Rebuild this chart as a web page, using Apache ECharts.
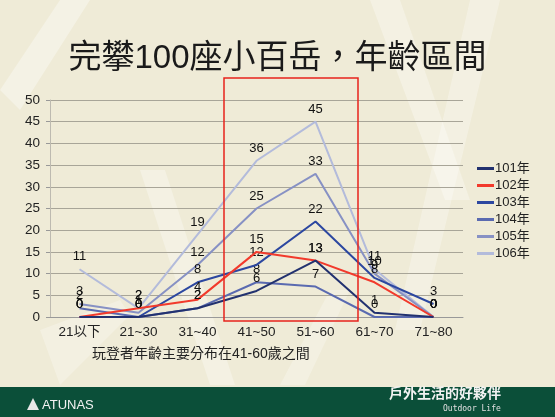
<!DOCTYPE html>
<html>
<head>
<meta charset="utf-8">
<script src="https://cdn.jsdelivr.net/npm/echarts@6/dist/echarts.min.js"></script>
<style>
  html, body { margin: 0; padding: 0; background: #efebd7; }
  #chart { width: 555px; height: 417px; }
</style>
</head>
<body>
<div id="chart"></div>
<script>
// 年齡區間
const categories = ['21以下', '21~30', '31~40', '41~50', '51~60', '61~70', '71~80']
const yTicks = [0, 5, 10, 15, 20, 25, 30, 35, 40, 45, 50]

// 各年度人數
const y101 = [0, 0, 2, 6, 13, 1, 0]
const y102 = [0, 2, 4, 15, 13, 8, 0]
const y103 = [0, 0, 8, 12, 22, 9, 3]
const y104 = [2, 0, 2, 8, 7, 0, 0]
const y105 = [3, 1, 12, 25, 33, 10, 0]
const y106 = [11, 2, 19, 36, 45, 11, 0]

const seriesNames = ['101年', '102年', '103年', '104年', '105年', '106年']
const seriesData = [y101, y102, y103, y104, y105, y106]
const seriesColors = ['#22316f', '#f23a2c', '#2c47a0', '#5a6ab0', '#8791c4', '#b3bbdb']

const font = "'Liberation Sans', 'Noto Sans CJK TC', sans-serif"
const chart = echarts.init(document.getElementById('chart'))

const option = {
  backgroundColor: '#efebd7',
  textStyle: { fontFamily: font },
  title: {
    text: '完攀100座小百岳，年齡區間',
    left: 'center',
    top: 37,
    textStyle: { fontSize: 33, fontWeight: 'normal', color: '#1a1a1a', fontFamily: font }
  },
  legend: {
    orient: 'vertical',
    left: 472,
    top: 157,
    itemWidth: 17,
    itemHeight: 3,
    itemGap: 4,
    icon: 'rect',
    textStyle: { fontSize: 13, color: '#222', padding: [0, 0, 0, -4] },
    data: seriesNames
  },
  grid: { left: 50, top: 100, width: 413, height: 217 },
  xAxis: {
    type: 'category',
    data: categories,
    boundaryGap: true,
    axisLine: { lineStyle: { color: '#999' } },
    axisTick: { lineStyle: { color: '#999' } },
    axisLabel: { fontSize: 13.5, color: '#222', margin: 9 }
  },
  yAxis: {
    type: 'value',
    min: yTicks[0],
    max: yTicks[yTicks.length - 1],
    interval: 5,
    axisLine: { show: true, lineStyle: { color: '#bdbab0' } },
    axisTick: { show: true, length: 4, lineStyle: { color: '#999' } },
    axisLabel: { fontSize: 13.5, color: '#222', margin: 10 },
    splitLine: { lineStyle: { color: '#a8a598', width: 1 } }
  },
  series: seriesNames.map((name, i) => ({
    name: name,
    type: 'line',
    data: seriesData[i],
    symbol: 'circle',
    symbolSize: 0.01,
    showSymbol: true,
    z: 10 - i,
    lineStyle: { color: seriesColors[i], width: 2 },
    itemStyle: { color: seriesColors[i] },
    labelLayout: { hideOverlap: false },
    label: { show: true, position: 'top', fontSize: 13, color: '#111', distance: 6 }
  })),
  graphic: [
    {
      type: 'group',
      silent: true,
      z: -10,
      children: [
        { type: 'polygon', shape: { points: [[0, 90], [60, 0], [90, 0], [20, 110]] }, style: { fill: 'rgba(255,255,255,0.35)' } },
        { type: 'polygon', shape: { points: [[370, 0], [400, 0], [470, 200], [445, 200]] }, style: { fill: 'rgba(255,255,255,0.3)' } },
        { type: 'polygon', shape: { points: [[470, 0], [500, 0], [420, 330], [395, 330]] }, style: { fill: 'rgba(255,255,255,0.28)' } },
        { type: 'polygon', shape: { points: [[140, 170], [165, 170], [235, 385], [210, 385]] }, style: { fill: 'rgba(255,255,255,0.3)' } },
        { type: 'polygon', shape: { points: [[60, 385], [40, 330], [120, 300], [130, 315]] }, style: { fill: 'rgba(255,255,255,0.25)' } },
        { type: 'polygon', shape: { points: [[280, 385], [305, 385], [350, 290], [330, 290]] }, style: { fill: 'rgba(255,255,255,0.25)' } }
      ]
    },
    {
      type: 'rect',
      silent: true,
      z: 100,
      shape: { x: 224, y: 78, width: 134, height: 243 },
      style: { fill: 'none', stroke: '#e8231c', lineWidth: 1.5 }
    },
    {
      type: 'text',
      left: 92,
      top: 347,
      style: { text: '玩登者年齡主要分布在41-60歲之間', font: "14px 'Liberation Sans', 'Noto Sans CJK TC'", fill: '#222' }
    },
    {
      type: 'rect',
      silent: true,
      shape: { x: 0, y: 387, width: 555, height: 30 },
      style: { fill: '#0b4f39' }
    },
    {
      type: 'polygon',
      silent: true,
      shape: { points: [[27, 410], [33, 398], [39, 410]] },
      style: { fill: '#e8e8e8' }
    },
    {
      type: 'text',
      left: 42,
      top: 399,
      style: { text: 'ATUNAS', font: "13px 'Liberation Sans'", fill: '#f2f2f2' }
    },
    {
      type: 'text',
      left: 389,
      top: 386,
      style: { text: '戶外生活的好夥伴', font: "bold 14px 'Noto Sans CJK TC'", fill: '#f2f2f2' }
    },
    {
      type: 'text',
      left: 443,
      top: 405,
      style: { text: 'Outdoor Life', font: "8px 'DejaVu Sans Mono'", fill: '#e0e0e0' }
    }
  ]
}

chart.setOption(option)
</script>
</body>
</html>
